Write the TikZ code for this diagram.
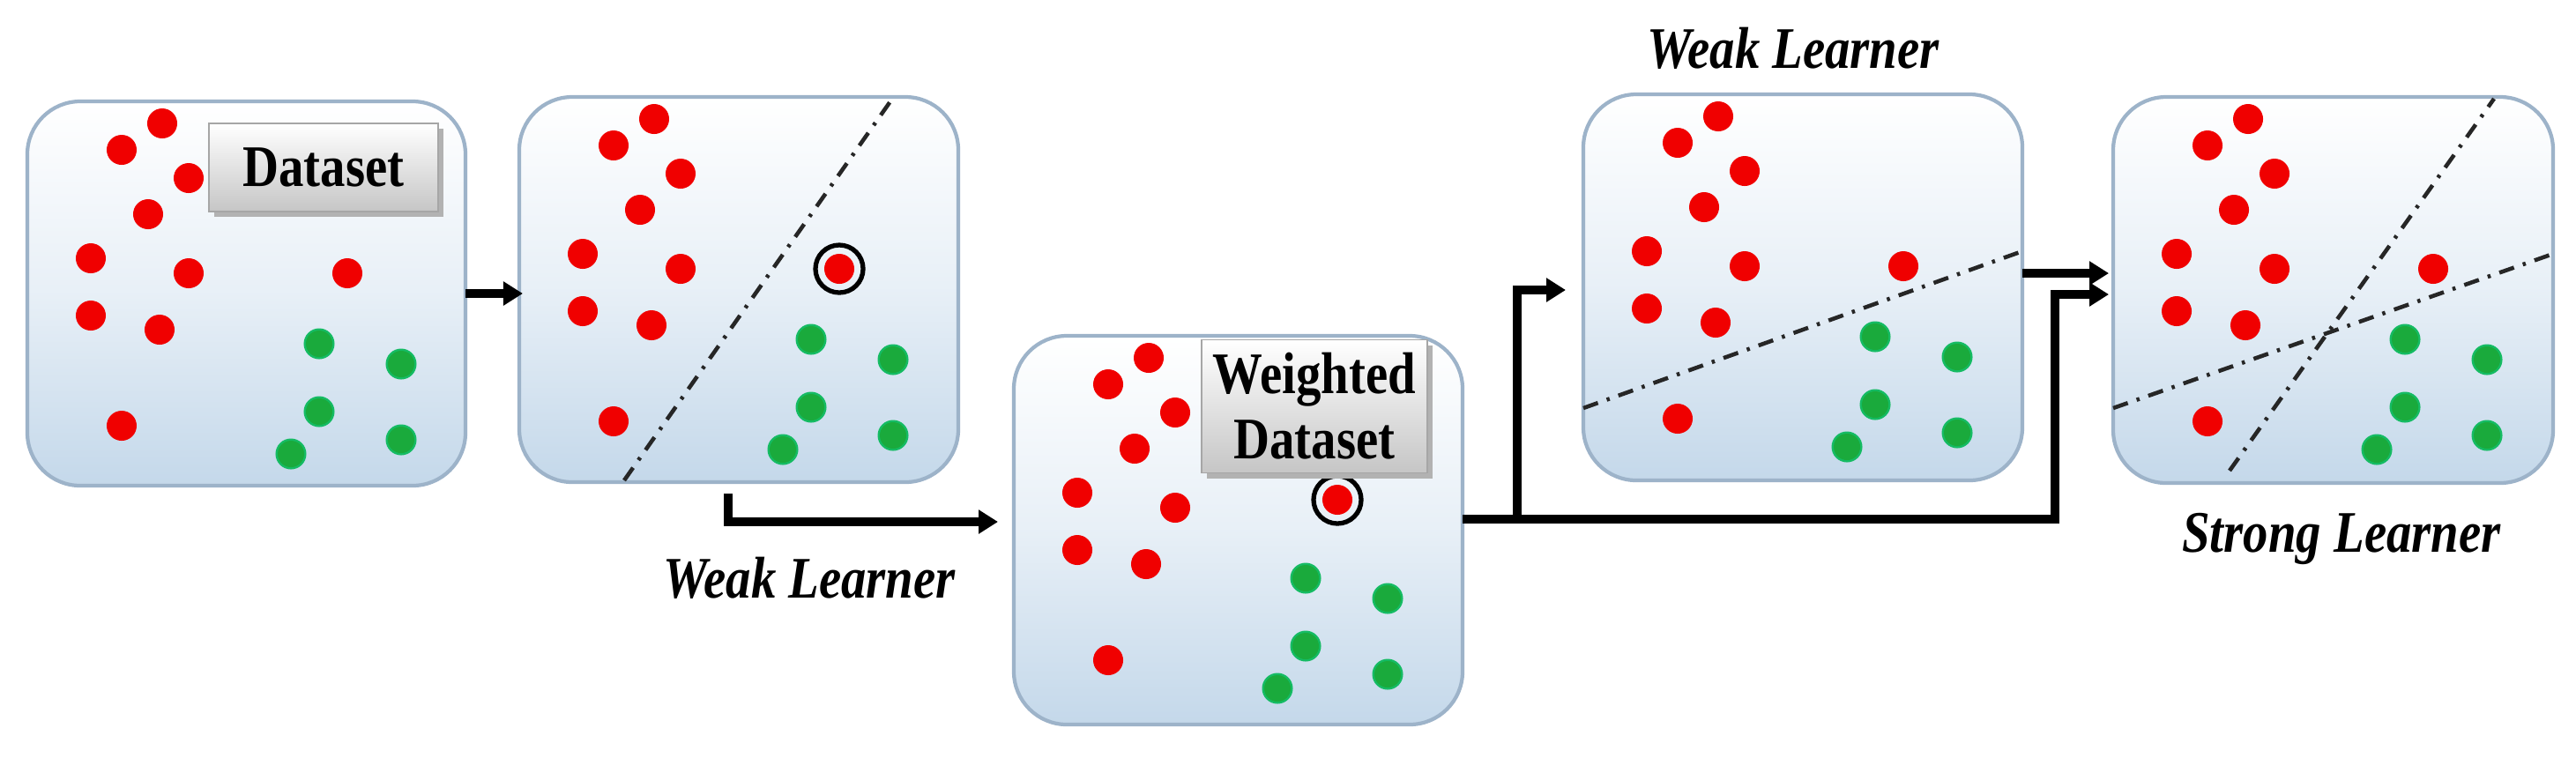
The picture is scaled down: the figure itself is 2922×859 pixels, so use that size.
\documentclass[tikz,border=0pt]{standalone}
\usepackage{fontspec}
\setmainfont{Liberation Serif}
\usetikzlibrary{arrows.meta,calc}
\definecolor{pb}{HTML}{C4D8EA}
\definecolor{pe}{HTML}{9DB3C9}
\definecolor{rd}{HTML}{F00000}
\definecolor{gn}{HTML}{1AAA3C}
\tikzset{
  panel/.style={rounded corners=0.6cm, draw=pe, line width=1.2pt, top color=white, bottom color=pb, middle color=white!60!pb},
  tag/.style={draw=gray!70, top color=white, bottom color=gray!45, font=\fontsize{19}{21}\selectfont\bfseries, align=center, inner sep=3pt},
  lab/.style={font=\fontsize{19}{22}\selectfont\bfseries\itshape},
  sep/.style={line width=1.3pt, dash pattern=on 5pt off 3pt on 1pt off 3pt, draw=black!85},
  conn/.style={line width=2.6pt, -{Triangle[length=0.22cm,width=0.26cm]}},
}
\newcommand{\nar}[1]{\scalebox{0.85}[1]{#1}}
\begin{document}
\begin{tikzpicture}[x=0.01cm,y=-0.01cm]
\useasboundingbox (0,0) rectangle (2922,859);
% panels
\coordinate (A) at (31,115);
\coordinate (B) at (589,110);
\coordinate (C) at (1150,381);
\coordinate (D) at (1796,107);
\coordinate (E) at (2397,110);
\path[panel] (31,115) rectangle (528,551);
\path[panel] (589,110) rectangle (1087,547);
\path[panel] (1150,381) rectangle (1659,822);
\path[panel] (1796,107) rectangle (2294,545);
\path[panel] (2397,110) rectangle (2896,548);
\foreach \o in {A,B,C,D,E}{
  \foreach \px/\py in {153/25,107/55,183/87,137/128,72/178,183/195,72/243,150/259,107/368}
    \fill[rd] ($(\o)+(\px,\py)$) circle (0.17cm);
  \foreach \px/\py in {331/275,424/298,331/352,424/384,299/400}
    {\fill[gn!80!cyan] ($(\o)+(\px,\py)$) circle (0.175cm);
     \fill[gn] ($(\o)+(\px,\py)$) circle (0.15cm);}
}
% extra red dot (outlier)
\fill[rd] ($(A)+(363,195)$) circle (0.17cm);
\fill[rd] ($(B)+(363,195)$) circle (0.17cm);
\draw[line width=1.5pt] ($(B)+(363,195)$) circle (0.27cm);
\fill[rd] ($(C)+(367,186)$) circle (0.17cm);
\draw[line width=1.5pt] ($(C)+(367,186)$) circle (0.27cm);
\fill[rd] ($(D)+(363,195)$) circle (0.17cm);
\fill[rd] ($(E)+(363,195)$) circle (0.17cm);
% separators
\draw[sep] ($(B)+(119,435)$) -- ($(B)+(421,5)$);
\draw[sep] ($(D)+(0,356)$) -- ($(D)+(498,178)$);
\draw[sep] ($(E)+(0,353)$) -- ($(E)+(499,178)$);
\draw[sep] ($(E)+(132,424)$) -- ($(E)+(432,2)$);
% tags
\fill[gray!60] (243,146) rectangle (503,246);
\node[tag, minimum width=2.6cm, minimum height=1cm] (t1) at (367,190) {\nar{Dataset}};
\fill[gray!60] (1369,392) rectangle (1625,543);
\node[tag, minimum width=2.56cm, minimum height=1.51cm] (t2) at (1491,461) {\nar{Weighted}\\\nar{Dataset}};
% labels
\node[lab] (l1) at (918,656) {\nar{Weak Learner}};
\node[lab] (l2) at (2034,55) {\nar{Weak Learner}};
\node[lab] (l3) at (2656,611) {\nar{Strong Learner}};
% connectors
\coordinate (a1) at (528,333); \coordinate (a2) at (593,333);
\draw[conn] (a1) -- (a2);
\coordinate (b1) at (826,560); \coordinate (b2) at (826,592); \coordinate (b3) at (1132,592);
\draw[conn] (b1) -- (b2) -- (b3);
\coordinate (c1) at (1659,589); \coordinate (c2) at (1721,589); \coordinate (c3) at (1721,329); \coordinate (c4) at (1776,329);
\draw[conn] (c1) -- (c2) -- (c3) -- (c4);
\coordinate (c5) at (2331,589); \coordinate (c6) at (2331,334); \coordinate (c7) at (2392,334);
\draw[conn] (c2) -- (c5) -- (c6) -- (c7);
\coordinate (d1) at (2294,310); \coordinate (d2) at (2392,310);
\draw[conn] (d1) -- (d2);
\end{tikzpicture}
\end{document}
